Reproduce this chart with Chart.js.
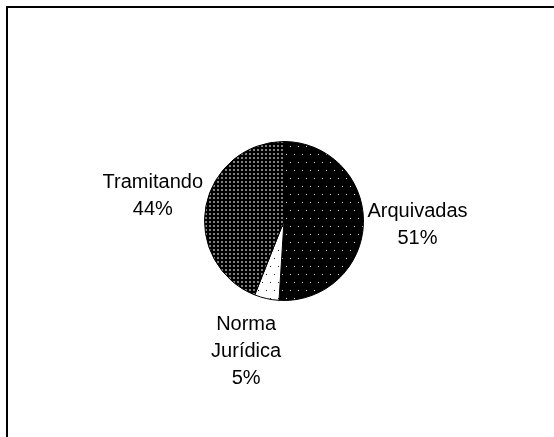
<!DOCTYPE html>
<html>
<head>
<meta charset="utf-8">
<script src="https://cdn.jsdelivr.net/npm/chart.js@4"></script>
<style>
    body { margin: 0; background: #fff; }
    #caixa { position: absolute; left: 0; top: 0; width: 554px; height: 437px; }
    #moldura { position: absolute; left: 6px; top: 6px; width: 560px; height: 450px;
        border-left: 2px solid #000; border-top: 2px solid #000; }
</style>
</head>
<body>
<div id="caixa">
    <canvas id="grafica" width="554" height="437"></canvas>
    <div id="moldura"></div>
</div>
<script>
var categorias = ["Arquivadas", "Norma Jurídica", "Tramitando"];
var rotulos = [["Arquivadas"], ["Norma", "Jurídica"], ["Tramitando"]];
var valores = [51, 5, 44];

// tramas de pontos como no original
function trama(w, h, fundo, cor, pontos, tam) {
    var c = document.createElement("canvas");
    c.width = w; c.height = h;
    var x = c.getContext("2d");
    x.fillStyle = fundo;
    x.fillRect(0, 0, w, h);
    x.fillStyle = cor;
    pontos.forEach(function (p) { x.fillRect(p[0], p[1], tam, tam); });
    return x.createPattern(c, "repeat");
}

var ctx = document.getElementById("grafica").getContext("2d");
var cores = [
    trama(8, 16, "#000", "#ddd", [[2, 2], [6, 10]], 1),
    trama(8, 16, "#fff", "#222", [[2, 2], [6, 10]], 1),
    trama(4, 4, "#000", "#808080", [[1, 1]], 2)
];

var total = valores.reduce(function (a, b) { return a + b; }, 0);

var rotulosFora = {
    id: "rotulosFora",
    afterDatasetsDraw: function (chart) {
        var c = chart.ctx;
        var meta = chart.getDatasetMeta(0);
        c.save();
        c.fillStyle = "#000";
        c.font = "20px 'Liberation Sans', Arial, sans-serif";
        c.textAlign = "center";
        c.textBaseline = "middle";
        meta.data.forEach(function (arc, i) {
            var meio = (arc.startAngle + arc.endAngle) / 2;
            var d = arc.outerRadius * 1.68;
            var x = arc.x + Math.cos(meio) * d * 1.0;
            var y = arc.y + Math.sin(meio) * d;
            // rótulos de várias linhas ficam um pouco mais afastados na horizontal
            if (rotulos[i].length > 1) x += Math.cos(meio) * 40;
            var linhas = rotulos[i].concat([Math.round(valores[i] / total * 100) + "%"]);
            var alt = 27;
            var y0 = y - (linhas.length - 1) * alt / 2;
            linhas.forEach(function (t, k) { c.fillText(t, x, y0 + k * alt); });
        });
        c.restore();
    }
};

var grafico = new Chart(ctx, {
    type: "pie",
    data: {
        labels: categorias,
        datasets: [{
            data: valores,
            backgroundColor: cores,
            borderColor: "#000",
            borderWidth: 1
        }]
    },
    options: {
        responsive: false,
        animation: false,
        layout: { padding: { left: 204, right: 190, top: 141, bottom: 136 } },
        plugins: {
            legend: { display: false },
            tooltip: { enabled: false }
        }
    },
    plugins: [rotulosFora]
});
</script>
</body>
</html>
